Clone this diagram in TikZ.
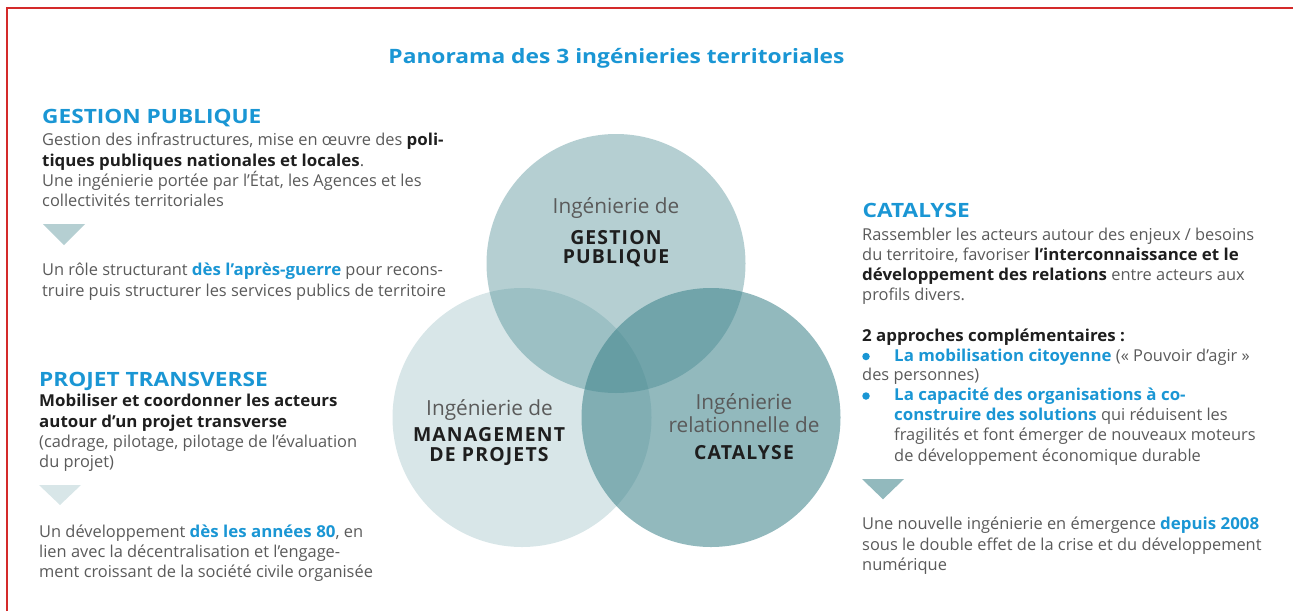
\documentclass[tikz,border=0pt]{standalone}
\usepackage{fontspec}
\setmainfont{Open Sans}[BoldFeatures={FakeStretch=1.03}]
\newfontfamily\headfont[FakeStretch=1.15]{Open Sans}
\newfontfamily\capsfont[LetterSpace=6]{Open Sans}
\usepackage{xcolor}
\usetikzlibrary{calc}
\definecolor{body}{HTML}{5A5A5A}
\definecolor{ink}{HTML}{1E1E1E}
\definecolor{accent}{HTML}{1A96D4}
\definecolor{sea}{HTML}{3C828A}
\definecolor{frame}{HTML}{D42A2A}
\newcommand{\inkb}[1]{{\bfseries\color{ink}#1}}
\newcommand{\blueb}[1]{{\bfseries\color{accent}#1}}
\tikzset{
  title/.style={text=accent, font=\headfont\bfseries\fontsize{19.8}{24}\selectfont, inner sep=0pt, anchor=base},
  head/.style={text=accent, font=\headfont\bfseries\fontsize{19.7}{24}\selectfont, inner sep=0pt, anchor=base west},
  para/.style={text=body, font=\fontsize{16.4}{20.3}\selectfont, align=left, inner sep=0pt, anchor=base west},
  lab/.style={text=body, font=\fontsize{20.8}{23.5}\selectfont, inner sep=0pt, anchor=base},
  labb/.style={text=ink, font=\capsfont\bfseries\fontsize{19.4}{20}\selectfont, inner sep=0pt, anchor=base},
  dot/.style={circle, fill=accent, inner sep=0pt, minimum size=7.5pt},
  pale/.style={fill=sea, fill opacity=0.2},
  mid/.style={fill=sea, fill opacity=0.38},
  deep/.style={fill=sea, fill opacity=0.56}
}

\begin{document}
\begin{tikzpicture}[x=1pt, y=-1pt]
  \useasboundingbox (0,0) rectangle (1293,611);
  \draw[frame, line width=2pt] (7,611) -- (7,8) -- (1293,8);

  \node[title] (ttl) at (616.5,63) {Panorama des 3 ingénieries territoriales};

  % venn (paragraph nodes below sit on the baseline of their last line)
  \coordinate (G) at (616,263.5);
  \coordinate (M) at (522,417.5);
  \coordinate (C) at (711,417.5);
  \fill[pale] (M) circle (129.5);
  \fill[mid] (G) circle (129.5);
  \fill[deep] (C) circle (129.5);

  \node[lab] (g1) at ($(G)+(0,-50.5)$) {Ingénierie de};
  \node[labb] (g2) at ($(G)+(0,-19.5)$) {GESTION};
  \node[labb] (g3) at ($(G)+(0,0)$) {PUBLIQUE};
  \node[lab] (m1) at ($(M)+(-32.5,-2.5)$) {Ingénierie de};
  \node[labb] (m2) at ($(M)+(-33,24.2)$) {MANAGEMENT};
  \node[labb] (m3) at ($(M)+(-33,44.2)$) {DE PROJETS};
  \node[lab] (c1) at ($(C)+(33,-8.2)$) {Ingénierie};
  \node[lab] (c2) at ($(C)+(33,15.2)$) {relationnelle de};
  \node[labb] (c3) at ($(C)+(33,41.5)$) {CATALYSE};

  % gestion publique
  \node[head] (gph) at (42,123.5) {GESTION PUBLIQUE};
  \node[para] (gpa) at (42,206.8) {Gestion des infrastructures, mise en œuvre des \inkb{poli-}\\
    \inkb{tiques publiques nationales et locales}.\\
    Une ingénierie portée par l’État, les Agences et les\\
    collectivités territoriales};
  \fill[mid] (43,224) -- (85,224) -- (64,245) -- cycle;
  \node[para] (gpb) at (42,296.2) {Un rôle structurant \blueb{dès l’après-guerre} pour recons-\\
    truire puis structurer les services publics de territoire};

  % projet transverse
  \node[head] (pth) at (39,386.5) {PROJET TRANSVERSE};
  \node[para] (pta) at (39,467.8) {\inkb{Mobiliser et coordonner les acteurs}\\
    \inkb{autour d’un projet transverse}\\
    (cadrage, pilotage, pilotage de l’évaluation\\
    du projet)};
  \fill[pale] (39,485) -- (81,485) -- (60,505) -- cycle;
  \node[para] (ptb) at (39,577.6) {Un développement \blueb{dès les années 80}, en\\
    lien avec la décentralisation et l’engage-\\
    ment croissant de la société civile organisée};

  % catalyse
  \node[head] (cth) at (862.5,217.5) {CATALYSE};
  \node[para] (cta) at (862,300.9) {Rassembler les acteurs autour des enjeux / besoins\\
    du territoire, favoriser \inkb{l’interconnaissance et le}\\
    \inkb{développement des relations} entre acteurs aux\\
    profils divers.};
  \node[para] (ctb) at (862,341) {\inkb{2 approches complémentaires :}};
  \node[dot] (d1) at (866,356.5) {};
  \node[para] (ap1) at (894,361) {\blueb{La mobilisation citoyenne} (« Pouvoir d’agir »};
  \node[para] (ap1b) at (862,380.7) {des personnes)};
  \node[dot] (d2) at (866,396) {};
  \node[para] (ap2) at (894,461.2) {\blueb{La capacité des organisations à co-}\\
    \blueb{construire des solutions} qui réduisent les\\
    fragilités et font émerger de nouveaux moteurs\\
    de développement économique durable};
  \fill[deep] (862,479) -- (904,479) -- (883,499.3) -- cycle;
  \node[para] (ctc) at (862,570.5) {Une nouvelle ingénierie en émergence \blueb{depuis 2008}\\
    sous le double effet de la crise et du développement\\
    numérique};
\end{tikzpicture}
\end{document}
